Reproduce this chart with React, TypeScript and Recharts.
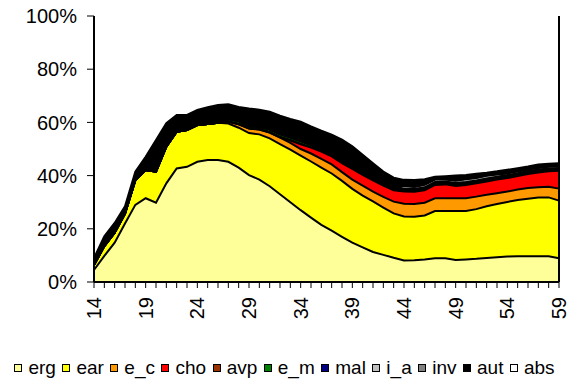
import React from "react";
import { AreaChart, Area, XAxis, YAxis, ReferenceLine } from "recharts";

const ages = [14, 15, 16, 17, 18, 19, 20, 21, 22, 23, 24, 25, 26, 27, 28, 29, 30, 31, 32, 33, 34, 35, 36, 37, 38, 39, 40, 41, 42, 43, 44, 45, 46, 47, 48, 49, 50, 51, 52, 53, 54, 55, 56, 57, 58, 59];

const erg = [4.5, 9.8, 14.8, 22, 29, 31.5, 29.8, 37.1, 42.7, 43.3, 45.2, 45.9, 45.9, 45.2, 43, 40.2, 38.5, 36, 33, 30, 27, 24.2, 21.5, 19.3, 17, 14.8, 13, 11.3, 10.2, 9.1, 8.1, 8.2, 8.5, 8.9, 8.9, 8.3, 8.5, 8.7, 9, 9.3, 9.6, 9.7, 9.7, 9.7, 9.7, 8.9];
const ear = [1.9, 3.7, 3.7, 3.7, 9.3, 10.6, 11.7, 13.8, 13.8, 13.8, 13.8, 13.5, 14, 14.4, 15, 15.8, 17, 18, 18.8, 19.8, 20.5, 21.1, 21.5, 21.5, 21, 20.2, 19.5, 19, 17.8, 16.7, 16.5, 16.3, 16.5, 17.8, 17.8, 18.4, 18.2, 18.7, 19.5, 20, 20.5, 21.1, 21.6, 22.1, 22.1, 21.7];
const e_c = [0, 0, 0, 0, 0, 0, 0, 0, 0, 0, 0, 0, 0, 0.6, 1.3, 1.7, 1.8, 2.2, 2.5, 2.5, 2.5, 3, 3.3, 3.4, 3.3, 3.5, 3.7, 3.7, 4, 4.4, 4.8, 4.8, 4.8, 4.8, 4.8, 4.8, 4.8, 4.7, 4.3, 4.1, 3.9, 4, 4, 3.8, 4, 4.5];
const cho = [0, 0, 0, 0, 0, 0, 0, 0, 0, 0, 0, 0, 0, 0, 0, 0, 0, 0, 0.1, 0.9, 1.8, 2.2, 2.7, 3, 3.4, 4, 4.1, 4.2, 4.2, 4.3, 4.6, 4.6, 4.7, 5, 5.2, 4.6, 5, 5, 5, 5.1, 5.1, 5, 5.3, 5.6, 5.8, 6.7];
const avp = [0, 0, 0, 0, 0, 0, 0, 0, 0, 0, 0, 0, 0, 0.2, 0.2, 0.2, 0.2, 0.2, 0.2, 0.2, 0.2, 0.2, 0.2, 0.2, 0.2, 0.2, 0.2, 0.2, 0.2, 0.2, 0.4, 0.4, 0.4, 0.4, 0.4, 0.4, 0.4, 0.4, 0.4, 0.4, 0.4, 0.4, 0.4, 0.4, 0.4, 0.4];
const e_m = [0, 0, 0, 0, 0, 0, 0, 0, 0, 0, 0, 0, 0, 0.9, 1, 0.7, 0.8, 1, 1, 1, 1, 0.9, 0.2, 0.2, 0.2, 0.2, 0.2, 0.2, 0.2, 0.2, 0.3, 0.3, 0.3, 0.3, 0.3, 0.3, 0.3, 0.3, 0.3, 0.3, 0.3, 0.3, 0.3, 0.3, 0.3, 0.3];
const mal = [0, 0, 0, 0, 0, 0, 0, 0, 0, 0, 0, 0, 0, 0, 0, 0, 0, 0, 0, 0, 0, 0, 0, 0, 0, 0, 0, 0, 0, 0, 0.4, 0.4, 0.4, 0.4, 0.4, 0.4, 0.4, 0.4, 0.4, 0.4, 0.4, 0.4, 0.4, 0.4, 0.4, 0.4];
const i_a = [0, 0, 0, 0, 0, 0, 0, 0, 0, 0, 0, 0, 0, 0, 0, 0, 0, 0, 0, 0, 0, 0, 0, 0, 0, 0, 0, 0, 0, 0, 1.0, 0.7, 0.9, 0.9, 0.7, 0.9, 1.0, 0.9, 1.0, 0.8, 0.6, 0.6, 0.6, 0.6, 0.6, 0.6];
const inv = [0, 0, 0, 0, 0, 0, 0, 0, 0, 0, 0, 0, 0, 0, 0, 0, 0, 0, 0, 0, 0, 0, 0, 0, 0, 0, 0, 0, 0, 0, 0.2, 0.2, 0.2, 0.2, 0.2, 0.2, 0.2, 0.2, 0.2, 0.2, 0.2, 0.2, 0.2, 0.2, 0.2, 0.2];
const aut = [2.6, 3.7, 3.7, 2.8, 3.2, 5, 11.9, 8.8, 6.3, 5.7, 5.7, 6.3, 6.6, 5.5, 5.3, 6.6, 6.5, 6.6, 6.9, 6.9, 7.3, 6.9, 7.5, 7.8, 8.4, 8.1, 7.1, 6, 4.9, 4.3, 2.1, 2.4, 1.9, 0.9, 1.1, 1.7, 1.4, 1.4, 1.0, 1.0, 1.2, 1.1, 0.9, 1.1, 1.0, 0.9];
const abs = [91, 82.8, 77.8, 71.5, 58.5, 52.9, 46.6, 40.3, 37.2, 37.2, 35.3, 34.3, 33.5, 33.2, 34.2, 34.8, 35.2, 36, 37.5, 38.7, 39.7, 41.5, 43.1, 44.6, 46.5, 49, 52.2, 55.4, 58.5, 60.8, 61.6, 61.7, 61.4, 60.4, 60.2, 60, 59.8, 59.3, 58.9, 58.4, 57.8, 57.2, 56.6, 55.8, 55.5, 55.4];

const seriesNames = ["erg", "ear", "e_c", "cho", "avp", "e_m", "mal", "i_a", "inv", "aut", "abs"];
const seriesColors = ["#FFFF99", "#FFFF00", "#FF9900", "#FF0000", "#993300", "#008000", "#000080", "#C0C0C0", "#808080", "#000000", "#FFFFFF"];
const yTicks = [0, 20, 40, 60, 80, 100];
const labelStep = 5;

const seriesValues = [erg, ear, e_c, cho, avp, e_m, mal, i_a, inv, aut, abs];

const data = ages.map((age, i) => {
  const row: Record<string, number> = { age };
  seriesNames.forEach((n, k) => {
    row[n] = seriesValues[k][i];
  });
  return row;
});

const FONT = "'Liberation Sans', Arial, sans-serif";

const XTick = (props: any) => {
  const { x, y, payload } = props;
  if ((payload.value - ages[0]) % labelStep !== 0) return <g />;
  return (
    <g transform={`translate(${x},${y})`}>
      <text
        transform="rotate(-90)"
        textAnchor="end"
        dominantBaseline="central"
        fill="#000"
        fontSize={20}
        fontFamily={FONT}
      >
        {payload.value}
      </text>
    </g>
  );
};

export default function App() {
  return (
    <div style={{ position: "absolute", left: 0, top: 0, width: 569, height: 379, background: "#fff" }}>
      <AreaChart
        width={569}
        height={379}
        data={data}
        margin={{ top: 16, right: 10, bottom: 0, left: 0 }}
      >
        <XAxis
          dataKey="age"
          type="number"
          domain={[ages[0], ages[ages.length - 1]]}
          ticks={ages}
          interval={0}
          height={97}
          tickSize={6}
          tickMargin={9}
          tickLine={{ stroke: "#000", strokeWidth: 1 }}
          axisLine={{ stroke: "#000", strokeWidth: 2 }}
          tick={<XTick />}
        />
        <YAxis
          domain={[0, 100]}
          ticks={yTicks}
          width={94}
          tickSize={7}
          tickMargin={10}
          tickFormatter={(v: number) => `${v}%`}
          tickLine={{ stroke: "#000", strokeWidth: 1 }}
          axisLine={{ stroke: "#000", strokeWidth: 2 }}
          tick={{ fill: "#000", fontSize: 20, fontFamily: FONT }}
          allowDataOverflow
        />
        {seriesNames.map((n, k) => (
          <Area
            key={"f" + n}
            type="linear"
            dataKey={n}
            stackId="fill"
            fill={seriesColors[k]}
            fillOpacity={1}
            stroke="none"
            dot={false}
            activeDot={false}
            isAnimationActive={false}
          />
        ))}
        {seriesNames.slice(0, seriesNames.length - 1).map((n) => (
          <Area
            key={"s" + n}
            type="linear"
            dataKey={n}
            stackId="line"
            fill="none"
            stroke="#000"
            strokeWidth={2}
            dot={false}
            activeDot={false}
            isAnimationActive={false}
          />
        ))}
        <ReferenceLine x={ages[ages.length - 1]} stroke="#000" strokeWidth={2} />
      </AreaChart>
      <div
        style={{
          position: "absolute",
          left: 0,
          top: 357,
          width: 569,
          height: 21,
          display: "flex",
          justifyContent: "center",
          alignItems: "center",
          fontFamily: FONT,
          fontSize: 19,
          lineHeight: "21px",
          color: "#000",
          whiteSpace: "nowrap",
        }}
      >
        {seriesNames.map((n, k) => (
          <div key={n} style={{ display: "flex", alignItems: "center", marginLeft: k === 0 ? 0 : 6.5 }}>
            <span
              style={{
                display: "inline-block",
                width: 6,
                height: 6,
                border: "1.5px solid #000",
                background: seriesColors[k],
                marginRight: 6,
              }}
            />
            <span>{n}</span>
          </div>
        ))}
      </div>
    </div>
  );
}
